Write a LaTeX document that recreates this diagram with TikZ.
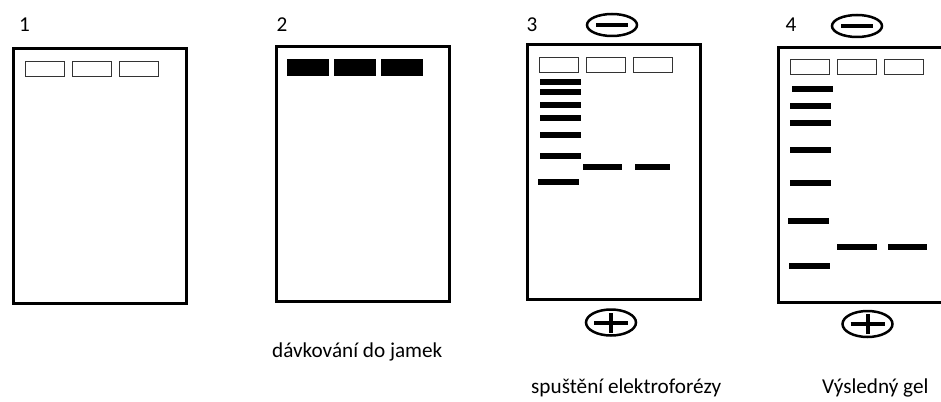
\documentclass[tikz,border=0pt]{standalone}
\usepackage{fontspec}
\setmainfont{Carlito}
\usetikzlibrary{shapes.geometric}

\begin{document}
\begin{tikzpicture}[x=1pt, y=-1pt,
	gel/.style={draw, line width=3pt, minimum width=173pt, minimum height=254pt, inner sep=0pt, anchor=north west},
	well/.style={draw=black!80, line width=1.4pt, minimum width=39pt, minimum height=15pt, inner sep=0pt},
	loaded/.style={fill=black, minimum width=42pt, minimum height=17pt, inner sep=0pt},
	band/.style={fill=black, minimum width=41pt, minimum height=6.5pt, inner sep=0pt},
	pole/.style={ellipse, draw, line width=2.5pt, minimum width=50pt, minimum height=22pt, inner sep=0pt},
	sign/.style={line width=4pt},
	label/.style={font=\fontsize{21.2}{25}\selectfont, inner sep=0pt}]

	\useasboundingbox (0, 0) rectangle (941, 401);

	\foreach \g/\x/\y in {1/10/46, 2/273/44, 3/524/42, 4/775/45}
		\node [gel] (gel-\g) at (\x + 1.5, \y + 1.5) {};

	\foreach \g/\x/\y in {1/10/69, 3/524/65, 4/775/67}
		\foreach \k in {0, 1, 2}
			\node [well] (well-\g-\k) at (\x + 35 + \k*47, \y) {};

	\foreach \k in {0, 1, 2}
		\node [loaded] (sample-\k) at (307.5 + \k*47, 67.5) {};

	\foreach \x/\y [count=\i] in {560/82, 560/92, 560/105, 560/118, 560/135, 560/156, 558.5/182}
		\node [band] (ladder-3-\i) at (\x, \y) {};

	\foreach \x/\y [count=\i] in {812/89, 810/106, 810/123, 810/150, 810/183, 808/221, 809/266}
		\node [band] (ladder-4-\i) at (\x, \y) {};

	\node [band, minimum width=39pt] (dna-3-1) at (602.5, 167) {};
	\node [band, minimum width=35pt] (dna-3-2) at (652.5, 167) {};
	\node [band, minimum width=40pt] (dna-4-1) at (857, 247) {};
	\node [band, minimum width=39pt] (dna-4-2) at (907.5, 247) {};

	\foreach \g/\x/\y in {3/612/25, 4/857/26}
	{
		\node [pole] (minus-\g) at (\x, \y) {};
		\draw [sign] ([xshift=-16pt]minus-\g.center) -- ([xshift=16pt]minus-\g.center);
	}

	\foreach \g/\x/\y in {3/611/322.5, 4/867.5/324}
	{
		\node [pole, minimum height=26pt] (plus-\g) at (\x, \y) {};
		\draw [sign] ([xshift=-17pt]plus-\g.center) -- ([xshift=17pt]plus-\g.center);
		\draw [sign] ([yshift=-10pt]plus-\g.center) -- ([yshift=10pt]plus-\g.center);
	}

	\foreach \l/\x in {1/24.5, 2/282, 3/532, 4/791}
		\node [label, anchor=base] (step-\l) at (\x, 32) {\l};

	\node [label, anchor=base west] (caption-2) at (272, 357) {dávkování do jamek};
	\node [label, anchor=base west] (caption-3) at (531, 393) {spuštění elektroforézy};
	\node [label, anchor=base west] (caption-4) at (822, 393) {Výsledný gel};
\end{tikzpicture}
\end{document}
